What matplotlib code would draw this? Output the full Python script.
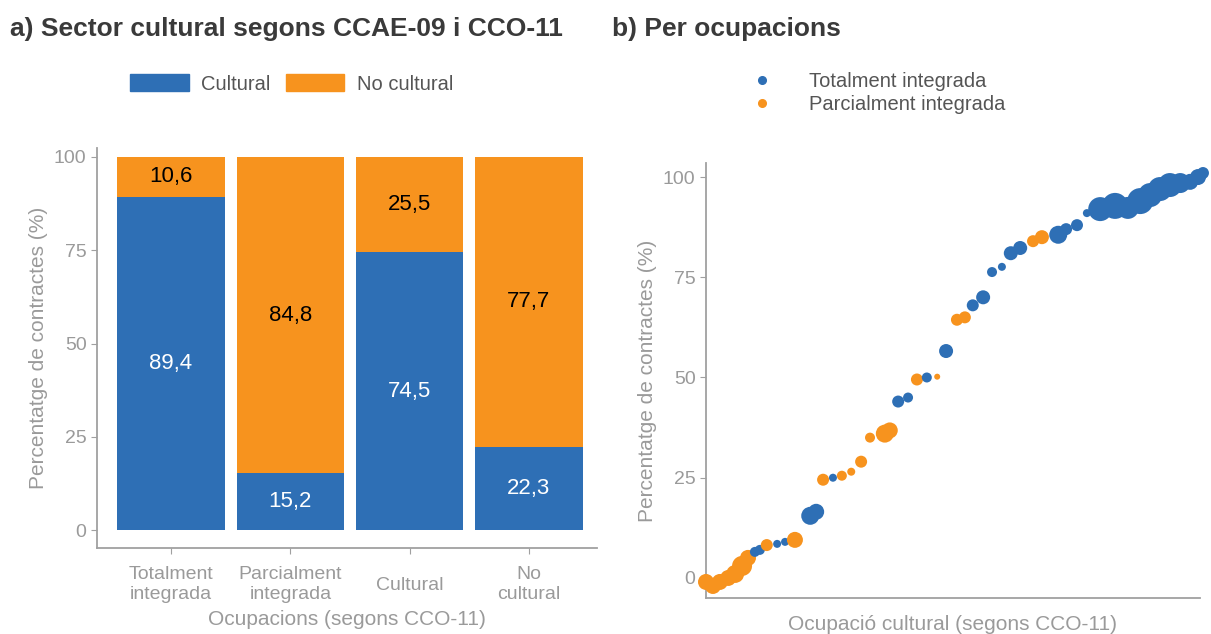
import matplotlib
matplotlib.use("Agg")
import matplotlib.pyplot as plt
import matplotlib.transforms as mtransforms
from matplotlib.patches import Patch
from matplotlib.lines import Line2D

plt.rcParams['font.family'] = ['Liberation Sans', 'DejaVu Sans']

# a) bars
groups = ["Totalment\nintegrada", "Parcialment\nintegrada", "Cultural", "No\ncultural"]
cultural = [89.4, 15.2, 74.5, 22.3]
no_cultural = [10.6, 84.8, 25.5, 77.7]

# b) occupations: order position, % contracts, point radius, type (T=totalment, P=parcialment)
occ_x = [0.0, 1.4, 2.8, 4.5, 5.9, 7.3, 8.5, 9.9, 10.9, 12.3, 14.4, 16.0, 18.0, 21.1, 22.3,
         23.7, 25.7, 27.5, 29.4, 31.4, 33.2, 36.2, 37.2, 38.9, 40.9, 42.7, 44.7, 46.8, 48.6,
         50.8, 52.4, 54.0, 56.1, 57.9, 59.9, 61.7, 63.6, 66.2, 68.0, 71.3, 72.9, 75.1, 77.1,
         79.8, 82.8, 85.4, 87.9, 89.9, 91.9, 93.9, 96.0, 98.0, 99.6, 100.6]
occ_y = [-1.0, -2.0, -1.0, 0.0, 1.0, 3.0, 5.0, 6.5, 7.0, 8.2, 8.5, 9.0, 9.5, 15.5, 16.5,
         24.5, 25.0, 25.5, 26.5, 29.0, 35.0, 36.0, 36.8, 44.0, 45.0, 49.5, 50.0, 50.2, 56.6,
         64.4, 65.0, 68.0, 70.0, 76.3, 77.6, 81.0, 82.3, 84.0, 85.0, 85.6, 87.0, 88.0, 91.0,
         92.0, 92.8, 92.3, 94.0, 95.5, 97.0, 98.0, 98.5, 98.8, 100.0, 101.0]
occ_r = [8, 8, 8, 8, 9, 10, 8, 5, 5, 6, 4, 4, 8, 9, 8,
         6, 4, 5, 4, 6, 5, 9, 8, 6, 5, 6, 5, 3, 7,
         6, 6, 6, 7, 5, 4, 7, 7, 6, 7, 9, 6, 6, 4,
         12, 13, 11, 13, 12, 12, 12, 10, 8, 8, 6]
occ_t = ["P", "P", "P", "P", "P", "P", "P", "T", "T", "P", "T", "T", "P", "T", "T",
         "P", "T", "P", "P", "P", "P", "P", "P", "T", "T", "P", "T", "P", "T",
         "P", "P", "T", "T", "T", "T", "T", "T", "P", "P", "T", "T", "T", "T",
         "T", "T", "T", "T", "T", "T", "T", "T", "T", "T", "T"]

blue = "#2E6FB5"
orange = "#F7931E"
grey_txt = "#9a9a9a"
axis_col = "#a0a0a0"

fig = plt.figure(figsize=(12.11, 6.34), dpi=100)

fig.text(10 / 1211, 1 - 29 / 634, "a) Sector cultural segons CCAE-09 i CCO-11",
         fontsize=19, fontweight="bold", color="#3a3a3a", va="center")
fig.text(612 / 1211, 1 - 29 / 634, "b) Per ocupacions",
         fontsize=19, fontweight="bold", color="#3a3a3a", va="center")

# ---- left panel
ax = fig.add_axes([97 / 1211, 86 / 634, 500 / 1211, 400 / 634])
pos = range(len(groups))
ax.bar(pos, cultural, width=0.9, color=blue, label="Cultural")
ax.bar(pos, no_cultural, width=0.9, bottom=cultural, color=orange, label="No cultural")
for i in pos:
    ax.text(i, cultural[i] / 2, f"{cultural[i]:.1f}".replace(".", ","),
            ha="center", va="center", color="white", fontsize=16)
    ax.text(i, cultural[i] + no_cultural[i] / 2, f"{no_cultural[i]:.1f}".replace(".", ","),
            ha="center", va="center", color="black", fontsize=16)
ax.set_xlim(-0.62, 3.57)
ax.set_ylim(-4.8, 102.4)
ax.set_xticks(list(pos))
ax.set_xticklabels(groups, linespacing=1.2)
ax.set_yticks([0, 25, 50, 75, 100])
ax.set_ylabel("Percentatge de contractes (%)", color=grey_txt, fontsize=15)
ax.set_xlabel("Ocupacions (segons CCO-11)", color=grey_txt, fontsize=15, labelpad=5)
for s in ["top", "right"]:
    ax.spines[s].set_visible(False)
for s in ["left", "bottom"]:
    ax.spines[s].set_color(axis_col)
    ax.spines[s].set_linewidth(1.3)
ax.tick_params(colors=axis_col, labelcolor=grey_txt, labelsize=14, length=4)
ax.tick_params(axis="x", pad=9)
# single-line labels sit centred against the two-line ones
for lbl in ax.get_xticklabels():
    if "\n" not in lbl.get_text():
        lbl.set_transform(lbl.get_transform() +
                          mtransforms.ScaledTranslation(0, -11 / 100, fig.dpi_scale_trans))

handles = [Patch(color=blue, label="Cultural"), Patch(color=orange, label="No cultural")]
fig.legend(handles=handles, loc="center left", bbox_to_anchor=(112 / 1211, 1 - 84 / 634),
           ncol=2, frameon=False, fontsize=14.5, handlelength=2.9, handleheight=0.85,
           columnspacing=0.8, handletextpad=0.6, labelcolor="#555555")

# ---- right panel
bx = fig.add_axes([706 / 1211, 36 / 634, 494 / 1211, 435 / 634])
for xv, yv, rv, tv in zip(occ_x, occ_y, occ_r, occ_t):
    bx.scatter(xv, yv, s=(1.44 * rv) ** 2, color=blue if tv == "T" else orange,
               edgecolors="none", zorder=3, clip_on=False)
bx.set_xlim(0, 100)
bx.set_ylim(-5, 103.5)
bx.set_xticks([])
bx.set_yticks([0, 25, 50, 75, 100])
bx.set_ylabel("Percentatge de contractes (%)", color=grey_txt, fontsize=15)
bx.set_xlabel("Ocupació cultural (segons CCO-11)", color=grey_txt, fontsize=15, labelpad=12)
for s in ["top", "right"]:
    bx.spines[s].set_visible(False)
for s in ["left", "bottom"]:
    bx.spines[s].set_color(axis_col)
    bx.spines[s].set_linewidth(1.3)
bx.tick_params(colors=axis_col, labelcolor=grey_txt, labelsize=14, length=4)

dots = [Line2D([], [], marker="o", linestyle="none", color=blue, markersize=5.5,
               label="Totalment integrada"),
        Line2D([], [], marker="o", linestyle="none", color=orange, markersize=5.5,
               label="Parcialment integrada")]
fig.legend(handles=dots, loc="center left", bbox_to_anchor=(724 / 1211, 1 - 93 / 634),
           ncol=1, frameon=False, fontsize=14.5, handletextpad=1.3, labelspacing=0.2,
           labelcolor="#555555")

fig.savefig("out.png", dpi=100)
